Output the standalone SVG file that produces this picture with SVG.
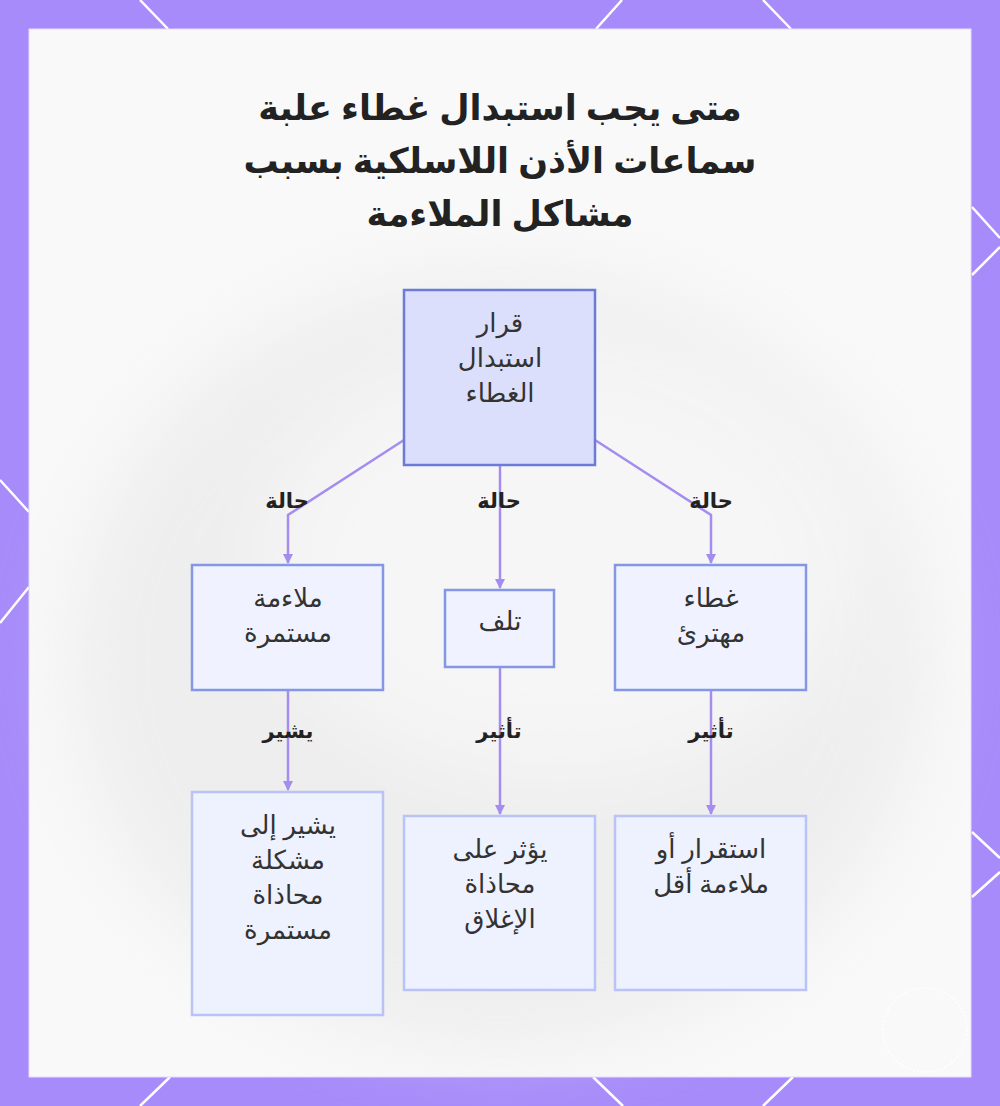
<svg xmlns="http://www.w3.org/2000/svg" width="1000" height="1106" viewBox="0 0 1000 1106">
  <style>
    .title { font-family: "Noto Sans", "DejaVu Sans", sans-serif; font-size: 35px; font-weight: bold; fill: #222222; text-anchor: middle; }
    .ntext { font-family: "Noto Sans", "DejaVu Sans", sans-serif; font-size: 26px; fill: #333333; text-anchor: middle; dominant-baseline: central; }
    .elabel { font-family: "Noto Sans", "DejaVu Sans", sans-serif; font-size: 21px; font-weight: bold; fill: #222222; text-anchor: middle; dominant-baseline: central; }
    .root { fill: #dcdffb; stroke: #6b7bd6; stroke-width: 2.5; }
    .mid { fill: #f0f3ff; stroke: #8597e4; stroke-width: 2.5; }
    .leaf { fill: #eef1fe; stroke: #b9c3f6; stroke-width: 2.5; }
    .edge { fill: none; stroke: #a58cf0; stroke-width: 2.5; }
    .deco { stroke: #ffffff; stroke-width: 2.5; }
  </style>
  <defs>
    <marker id="arrow" viewBox="0 0 10 10" refX="9" refY="5" markerWidth="4" markerHeight="4" orient="auto">
      <path d="M0,0 L10,5 L0,10 z" fill="#a58cf0"/>
    </marker>
    <filter id="blur" x="-20%" y="-20%" width="140%" height="140%">
      <feGaussianBlur stdDeviation="40"/>
    </filter>
  </defs>

  <!-- frame -->
  <rect x="0" y="0" width="1000" height="1106" fill="#a78bfa"/>
  <g id="frame-lines">
    <line class="deco" x1="140" y1="0" x2="168" y2="29"/>
    <line class="deco" x1="622" y1="0" x2="596" y2="29"/>
    <line class="deco" x1="763" y1="0" x2="791" y2="29"/>
    <line class="deco" x1="972" y1="207" x2="1000" y2="238"/>
    <line class="deco" x1="1000" y1="247" x2="972" y2="275"/>
    <line class="deco" x1="972" y1="832" x2="1000" y2="858"/>
    <line class="deco" x1="1000" y1="872" x2="972" y2="897"/>
    <line class="deco" x1="0" y1="480" x2="29" y2="512"/>
    <line class="deco" x1="29" y1="587" x2="0" y2="623"/>
    <line class="deco" x1="170" y1="1077" x2="140" y2="1106"/>
    <line class="deco" x1="593" y1="1077" x2="623" y2="1106"/>
    <line class="deco" x1="793" y1="1077" x2="763" y2="1106"/>
  </g>
  <rect x="29" y="29" width="942" height="1048" fill="#f9f9f9" stroke="#e4dcfc" stroke-width="1"/>

  <!-- faint background image -->
  <g id="background" opacity="0.4">
    <ellipse cx="500" cy="660" rx="430" ry="390" fill="#dedede" filter="url(#blur)"/>
    <ellipse cx="560" cy="560" rx="300" ry="220" fill="#f2f2f2" filter="url(#blur)"/>
  </g>
  <circle cx="925" cy="1030" r="42" fill="none" stroke="#ffffff" stroke-width="1.5" stroke-dasharray="2 2"/>

  <!-- title -->
  <g id="title">
    <text class="title" x="500" y="120">متى يجب استبدال غطاء علبة</text>
    <text class="title" x="500" y="173">سماعات الأذن اللاسلكية بسبب</text>
    <text class="title" x="500" y="226">مشاكل الملاءمة</text>
  </g>

  <!-- connectors -->
  <g id="connectors">
    <polyline class="edge" points="404,440 288,515 288,563" marker-end="url(#arrow)"/>
    <polyline class="edge" points="500,465 500,588" marker-end="url(#arrow)"/>
    <polyline class="edge" points="595,440 711,515 711,563" marker-end="url(#arrow)"/>
    <polyline class="edge" points="288,691 288,790" marker-end="url(#arrow)"/>
    <polyline class="edge" points="500,667 500,814" marker-end="url(#arrow)"/>
    <polyline class="edge" points="711,691 711,814" marker-end="url(#arrow)"/>
  </g>

  <!-- edge labels -->
  <g id="edge-labels">
    <text class="elabel" x="287" y="500">حالة</text>
    <text class="elabel" x="499" y="500">حالة</text>
    <text class="elabel" x="711" y="500">حالة</text>
    <text class="elabel" x="288" y="730">يشير</text>
    <text class="elabel" x="499" y="730">تأثير</text>
    <text class="elabel" x="711" y="730">تأثير</text>
  </g>

  <!-- nodes -->
  <g id="node-decision">
    <rect class="root" x="404" y="290" width="191" height="175"/>
    <text class="ntext" x="500" y="322">قرار</text>
    <text class="ntext" x="500" y="357">استبدال</text>
    <text class="ntext" x="500" y="392">الغطاء</text>
  </g>
  <g id="node-fit">
    <rect class="mid" x="192" y="565" width="191" height="125"/>
    <text class="ntext" x="288" y="597">ملاءمة</text>
    <text class="ntext" x="288" y="632">مستمرة</text>
  </g>
  <g id="node-damage">
    <rect class="mid" x="445" y="590" width="109" height="77"/>
    <text class="ntext" x="500" y="620">تلف</text>
  </g>
  <g id="node-worn">
    <rect class="mid" x="615" y="565" width="191" height="125"/>
    <text class="ntext" x="711" y="597">غطاء</text>
    <text class="ntext" x="711" y="632">مهترئ</text>
  </g>
  <g id="node-alignment">
    <rect class="leaf" x="192" y="792" width="191" height="223"/>
    <text class="ntext" x="288" y="824">يشير إلى</text>
    <text class="ntext" x="288" y="859">مشكلة</text>
    <text class="ntext" x="288" y="894">محاذاة</text>
    <text class="ntext" x="288" y="929">مستمرة</text>
  </g>
  <g id="node-closure">
    <rect class="leaf" x="404" y="816" width="191" height="174"/>
    <text class="ntext" x="500" y="848">يؤثر على</text>
    <text class="ntext" x="500" y="883">محاذاة</text>
    <text class="ntext" x="500" y="918">الإغلاق</text>
  </g>
  <g id="node-stability">
    <rect class="leaf" x="615" y="816" width="191" height="174"/>
    <text class="ntext" x="711" y="848">استقرار أو</text>
    <text class="ntext" x="711" y="883">ملاءمة أقل</text>
  </g>
</svg>
